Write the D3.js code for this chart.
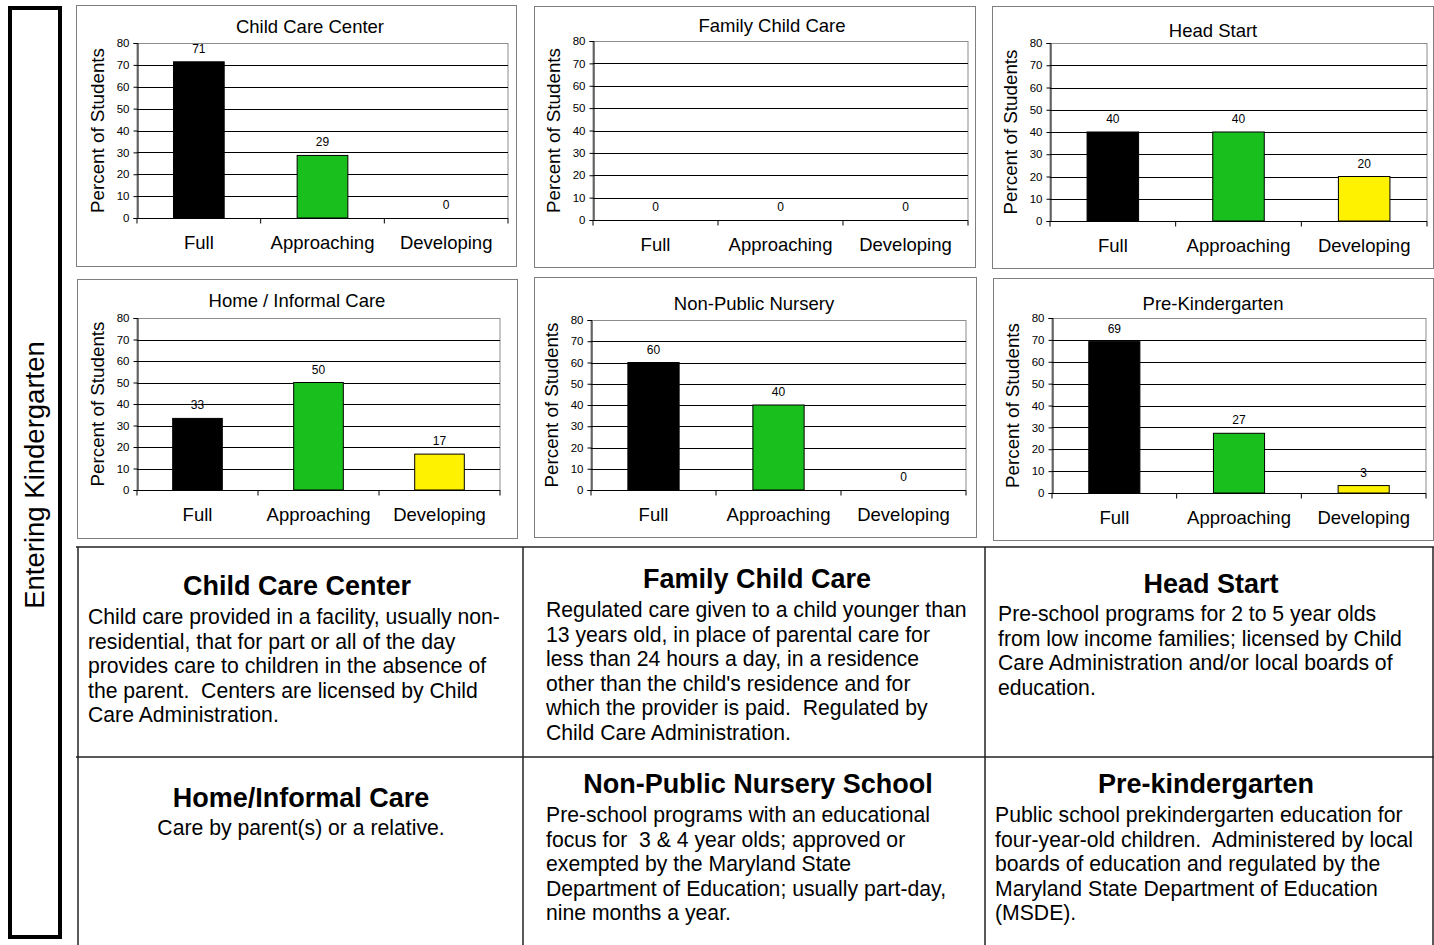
<!DOCTYPE html>
<html>
<head>
<meta charset="utf-8">
<script src="https://cdn.jsdelivr.net/npm/d3@7"></script>
<style>
	body{margin:0;background:#fff;}
	svg{display:block;font-family:"Liberation Sans",Arial,sans-serif;}
	text{white-space:pre;}
</style>
</head>
<body>
<svg id="chart" width="1434" height="945"></svg>
<script>
// data
const categories = ['Full','Approaching','Developing'];
const programs = ['Child Care Center','Family Child Care','Head Start','Home / Informal Care','Non-Public Nursery','Pre-Kindergarten'];
const fullValues = [71.4,0,40,33.3,60,69.2];
const approachingValues = [28.6,0,40,50,40,27.3];
const developingValues = [0,0,20,16.7,0,3.4];
const yTicks = [0,10,20,30,40,50,60,70,80];
const barColors = ['#000000','#19bf1c','#fff200'];

const descTitles = ['Child Care Center','Family Child Care','Head Start','Home/Informal Care','Non-Public Nursery School','Pre-kindergarten'];
const descLines = [
	['Child care provided in a facility, usually non-','residential, that for part or all of the day','provides care to children in the absence of','the parent.  Centers are licensed by Child','Care Administration.'],
	['Regulated care given to a child younger than','13 years old, in place of parental care for','less than 24 hours a day, in a residence',"other than the child's residence and for",'which the provider is paid.  Regulated by','Child Care Administration.'],
	['Pre-school programs for 2 to 5 year olds','from low income families; licensed by Child','Care Administration and/or local boards of','education.'],
	['Care by parent(s) or a relative.'],
	['Pre-school programs with an educational','focus for  3 & 4 year olds; approved or','exempted by the Maryland State','Department of Education; usually part-day,','nine months a year.'],
	['Public school prekindergarten education for','four-year-old children.  Administered by local','boards of education and regulated by the','Maryland State Department of Education','(MSDE).']
];

// page layout (boxes are [x0,y0,x1,y1])
const panels = [
	{frame:[76,5,516,266], plot:[137,43,508,218], tx:310, ty:33},
	{frame:[534,6,975,267], plot:[593,41,968,220], tx:772, ty:32},
	{frame:[992,6,1433,268], plot:[1050,43,1427,221], tx:1213, ty:37},
	{frame:[77,279,517,538], plot:[137,318,500,490], tx:297, ty:307},
	{frame:[534,277,976,537], plot:[591,320,966,490], tx:754, ty:310},
	{frame:[993,278,1433,540], plot:[1052,318,1426,493], tx:1213, ty:310}
];
const cells = [
	{hx:297, hy:595, bx:88, by:624, anchor:'start'},
	{hx:757, hy:588, bx:546, by:617, anchor:'start'},
	{hx:1211, hy:593, bx:998, by:621, anchor:'start'},
	{hx:301, hy:807, bx:301, by:835, anchor:'middle'},
	{hx:758, hy:793, bx:546, by:822, anchor:'start'},
	{hx:1206, hy:793, bx:995, by:822, anchor:'start'}
];
const lineHeight = 24.5;

const svg = d3.select('#chart');

// left bracket with the rotated label
svg.append('rect')
	.attr('x',10).attr('y',8)
	.attr('width',50).attr('height',929)
	.attr('fill','none')
	.attr('stroke','#000')
	.attr('stroke-width',4);
svg.append('text')
	.attr('transform','translate(44,475) rotate(-90)')
	.attr('text-anchor','middle')
	.attr('font-size',27.5)
	.text('Entering Kindergarten');

programs.forEach((name,i)=>{
	const p = panels[i];
	const values = [fullValues[i],approachingValues[i],developingValues[i]];
	const [px0,py0,px1,py1] = p.plot;

	const g = svg.append('g').classed('panel',true);
	g.append('rect')
		.attr('x',p.frame[0]+0.5).attr('y',p.frame[1]+0.5)
		.attr('width',p.frame[2]-p.frame[0]).attr('height',p.frame[3]-p.frame[1])
		.attr('fill','#fff')
		.attr('stroke','#7f7f7f');

	const xScale = d3.scaleBand()
		.domain(categories)
		.range([px0,px1])
		.padding(0);
	const yScale = d3.scaleLinear()
		.domain([0,80])
		.range([py1,py0]);

	// plot area border + gridlines
	g.append('rect')
		.attr('x',px0).attr('y',py0+0.5)
		.attr('width',px1-px0).attr('height',py1-py0)
		.attr('fill','none')
		.attr('stroke','#8c8c8c');
	g.selectAll('line.grid')
		.data(yTicks.filter(t=>t>0 && t<80))
		.join('line')
			.classed('grid',true)
			.attr('x1',px0).attr('x2',px1)
			.attr('y1',d=>Math.round(yScale(d))+0.5)
			.attr('y2',d=>Math.round(yScale(d))+0.5)
			.attr('stroke','#000');

	// bars
	const barW = xScale.step()*0.41;
	g.selectAll('rect.bar')
		.data(values.map((v,j)=>({v:v,cat:categories[j],color:barColors[j]})).filter(d=>d.v>0))
		.join('rect')
			.classed('bar',true)
			.attr('x',d=>xScale(d.cat)+xScale.bandwidth()/2-barW/2)
			.attr('y',d=>yScale(d.v))
			.attr('width',barW)
			.attr('height',d=>yScale(0)-yScale(d.v))
			.attr('fill',d=>d.color)
			.attr('stroke','#000')
			.attr('stroke-width',1);

	// value labels
	g.selectAll('text.val')
		.data(values.map((v,j)=>({v:v,cat:categories[j]})))
		.join('text')
			.classed('val',true)
			.attr('x',d=>xScale(d.cat)+xScale.bandwidth()/2)
			.attr('y',d=>yScale(d.v)-9)
			.attr('text-anchor','middle')
			.attr('font-size',12)
			.text(d=>Math.round(d.v));

	// y axis
	const yAxis = d3.axisLeft(yScale)
		.tickValues(yTicks)
		.tickSize(4)
		.tickPadding(4);
	const ya = g.append('g')
		.attr('transform','translate('+(px0+0.5)+',0)')
		.call(yAxis);
	ya.selectAll('text').attr('font-size',11.5).attr('font-family','inherit').attr('fill','#000');
	ya.selectAll('line,path').attr('stroke','#000');

	// x axis: labels at band centres, ticks at band edges
	const xAxis = d3.axisBottom(xScale)
		.tickSize(0)
		.tickPadding(17);
	const xa = g.append('g')
		.attr('transform','translate(0,'+(py1+0.5)+')')
		.call(xAxis);
	xa.select('path.domain').attr('stroke','#000').attr('d','M'+px0+',0H'+px1);
	xa.selectAll('text').attr('font-size',18.5).attr('font-family','inherit').attr('fill','#000');
	xa.selectAll('line.edge')
		.data(d3.range(categories.length+1))
		.join('line')
			.classed('edge',true)
			.attr('x1',k=>px0+k*xScale.step()).attr('x2',k=>px0+k*xScale.step())
			.attr('y1',0).attr('y2',5)
			.attr('stroke','#000');

	// y axis title
	g.append('text')
		.attr('transform','translate('+(px0-33)+','+((py0+py1)/2)+') rotate(-90)')
		.attr('text-anchor','middle')
		.attr('font-size',18.8)
		.text('Percent of Students');

	// chart title
	g.append('text')
		.attr('x',p.tx).attr('y',p.ty)
		.attr('text-anchor','middle')
		.attr('font-size',18.5)
		.text(name);
});

// description table
const table = svg.append('g').classed('table',true);
const hLines = [547,757];
const vLines = [78,523,985,1433];
table.selectAll('line.h')
	.data(hLines)
	.join('line')
		.attr('x1',76).attr('x2',1434)
		.attr('y1',d=>d).attr('y2',d=>d)
		.attr('stroke','#222').attr('stroke-width',1.5);
table.selectAll('line.v')
	.data(vLines)
	.join('line')
		.attr('x1',d=>d).attr('x2',d=>d)
		.attr('y1',547).attr('y2',945)
		.attr('stroke','#222').attr('stroke-width',1.5);

descTitles.forEach((title,i)=>{
	const c = cells[i];
	table.append('text')
		.attr('x',c.hx).attr('y',c.hy)
		.attr('text-anchor','middle')
		.attr('font-size',27)
		.attr('font-weight','bold')
		.text(title);
	const body = table.append('text')
		.attr('text-anchor',c.anchor)
		.attr('font-size',21.2);
	body.selectAll('tspan')
		.data(descLines[i])
		.join('tspan')
			.attr('x',c.bx)
			.attr('y',(d,k)=>c.by+k*lineHeight)
			.text(d=>d);
});
</script>
</body>
</html>
